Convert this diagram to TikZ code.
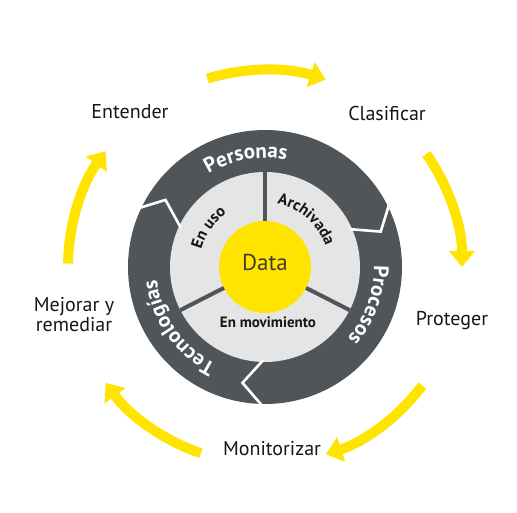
\documentclass[tikz,border=0pt]{standalone}
\usepackage{fontspec}
\setmainfont{PT Sans}
\usetikzlibrary{arrows.meta,decorations.text,calc}
\definecolor{eyyellow}{RGB}{255,228,0}
\definecolor{ringdark}{RGB}{80,85,89}
\definecolor{ringlight}{RGB}{229,229,229}
\definecolor{txtdark}{RGB}{22,22,22}
\definecolor{datatxt}{RGB}{70,60,45}
\tikzset{
  cycarrow/.style={draw=eyyellow, line width=10pt, -{Triangle[width=25pt,length=16pt]}},
  chev/.style={draw=white, line width=2.6pt, line join=miter},
  divider/.style={draw=ringdark, line width=4pt},
  outerlabel/.style={text=txtdark, font=\fontsize{20}{20}\selectfont, inner sep=0pt},
  innerlabel/.style={text=txtdark, font=\fontsize{15}{15}\selectfont\bfseries, inner sep=0pt}
}
\begin{document}
\begin{tikzpicture}[x=1pt,y=1pt]
\useasboundingbox (0,0) rectangle (517,512);
\fill[white] (0,0) rectangle (517,512);
\coordinate (C) at (265,245);

% yellow cycle arrows
\foreach \k in {0,...,4} {
  \pgfmathsetmacro\ta{107-72*\k}
  \pgfmathsetmacro\he{72-72*\k}
  \draw[cycarrow] ($(C)+(\ta:197)$) arc[start angle=\ta, end angle=\he, radius=197];
}

% rings
\fill[ringdark] (C) circle[radius=137];
\fill[ringlight] (C) circle[radius=95];

% chevron separators in the dark ring
\draw[chev] ($(C)+(156:142)$) -- ($(C)+(146:120)$) -- ($(C)+(155:93)$);
\draw[chev] ($(C)+(28:142)$) -- ($(C)+(17:121)$) -- ($(C)+(24:93)$);
\draw[chev] ($(C)+(-90:142)$) -- ($(C)+(-101:118)$) -- ($(C)+(-91:93)$);

% dividers in the light ring
\foreach \a in {90,207,-27} {
  \draw[divider] ($(C)+(\a:44)$) -- ($(C)+(\a:95)$);
}

% data circle
\fill[eyyellow] (C) circle[radius=46];
\node[text=datatxt, font=\fontsize{23}{23}\selectfont, inner sep=0pt] (data) at (265,250) {Data};

% ring labels
\path[decorate, decoration={text along path, text align=center,
  text={|\fontsize{21}{21}\selectfont\bfseries\color{white}|Personas}}]
  ($(C)+(165:109)$) arc[start angle=165, end angle=35, radius=109];
\path[decorate, decoration={text along path, text align=center,
  text={|\fontsize{21}{21}\selectfont\bfseries\color{white}|Procesos}}]
  ($(C)+(45:109)$) arc[start angle=45, end angle=-85, radius=109];
\path[decorate, decoration={text along path, text align=center,
  text={|\fontsize{21}{21}\selectfont\bfseries\color{white}|Tecnologías}}]
  ($(C)+(290:109)$) arc[start angle=290, end angle=140, radius=109];

% inner labels
\path[decorate, decoration={text along path, text align=center,
  text={|\fontsize{16}{16}\selectfont\bfseries\color{txtdark}|En uso}}]
  ($(C)+(190:66)$) arc[start angle=190, end angle=100, radius=66];
\path[decorate, decoration={text along path, text align=center,
  text={|\fontsize{16}{16}\selectfont\bfseries\color{txtdark}|Archivada}}]
  ($(C)+(100:64)$) arc[start angle=100, end angle=-2, radius=64];
\node[innerlabel] (mov) at (268,190) {En movimiento};

% outer labels
\node[outerlabel, anchor=base] (entender) at (130,393) {Entender};
\node[outerlabel, anchor=base] (clasificar) at (387,391) {Clasificar};
\node[outerlabel, anchor=base] (proteger) at (452,186) {Proteger};
\node[outerlabel, anchor=base] (monitorizar) at (272,57) {Monitorizar};
\node[outerlabel, align=center] (mejorar) at (74,197) {Mejorar y\\remediar};
\end{tikzpicture}
\end{document}
